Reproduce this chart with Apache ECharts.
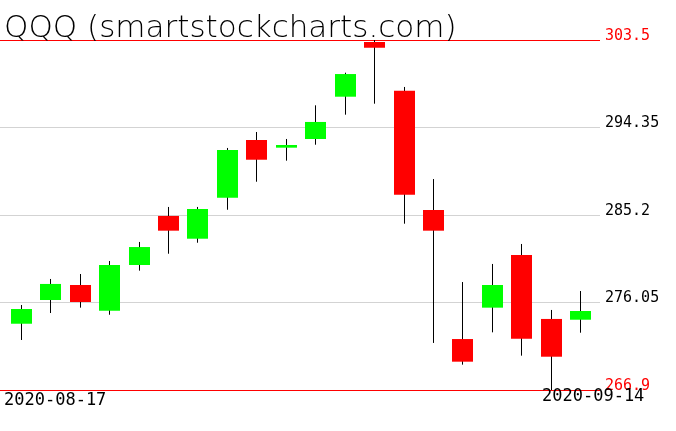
<!DOCTYPE html>
<html>
<head>
<meta charset="utf-8">
<script src="https://cdn.jsdelivr.net/npm/echarts@6/dist/echarts.min.js"></script>
<style>
html,body{margin:0;padding:0;background:#fff;}
#c{width:676px;height:431px;}
</style>
</head>
<body>
<div id="c"></div>
<script>
var titleText = 'QQQ (smartstockcharts.com)';
var dates = ['2020-08-17','2020-08-18','2020-08-19','2020-08-20','2020-08-21','2020-08-24','2020-08-25','2020-08-26','2020-08-27','2020-08-28','2020-08-31','2020-09-01','2020-09-02','2020-09-03','2020-09-04','2020-09-08','2020-09-09','2020-09-10','2020-09-11','2020-09-14'];
var openV  = [273.83,276.31,277.88,275.19,279.97,285.10,282.72,287.01,293.04,292.24,293.15,297.57,303.29,298.20,285.72,272.23,275.51,281.02,274.33,274.25];
var closeV = [275.37,277.99,276.10,279.97,281.85,283.56,285.83,292.00,290.98,292.52,294.93,299.94,302.69,287.32,283.56,269.86,277.88,272.27,270.38,275.16];
var lowV   = [272.13,274.95,275.51,274.77,279.38,281.15,282.30,285.75,288.68,290.88,292.55,295.69,296.84,284.29,271.82,269.55,272.93,270.49,266.90,272.89];
var highV  = [275.79,278.51,279.03,280.39,282.38,286.04,286.04,292.21,293.88,293.15,296.67,300.08,303.50,298.59,288.96,278.19,280.08,282.17,275.27,277.25];
var yTicks = [266.9, 276.05, 285.2, 294.35, 303.5];
var yTickLabels = ['266.9', '276.05', '285.2', '294.35', '303.5'];

var data = dates.map(function (d, i) { return [i, openV[i], closeV[i], lowV[i], highV[i]]; });
var yMin = yTicks[0], yMax = yTicks[yTicks.length - 1];
var yInt = Math.round((yTicks[1] - yTicks[0]) * 100) / 100;

function nearestLabel(v) {
  var best = 0;
  for (var i = 1; i < yTicks.length; i++) if (Math.abs(yTicks[i] - v) < Math.abs(yTicks[best] - v)) best = i;
  return best;
}

var chart = echarts.init(document.getElementById('c'), null, {renderer: 'canvas'});
chart.setOption({
  animation: false,
  backgroundColor: '#ffffff',
  title: [
    {text: titleText, left: 4, top: 13, padding: 0, textStyle: {fontFamily: 'DejaVu Sans', fontWeight: 200, fontSize: 31, color: '#000'}},
    {text: dates[0], left: 4, top: 392, padding: 0, textStyle: {fontFamily: 'DejaVu Sans Mono', fontWeight: 'normal', fontSize: 17, color: '#000'}},
    {text: dates[dates.length - 1], left: 542, top: 388, padding: 0, textStyle: {fontFamily: 'DejaVu Sans Mono', fontWeight: 'normal', fontSize: 17, color: '#000'}}
  ],
  grid: [
    {left: 6, right: 81, top: 40, bottom: 41, containLabel: false},
    {left: 0, right: 76, top: 40, bottom: 41, containLabel: false}
  ],
  xAxis: [
    {type: 'category', gridIndex: 0, data: dates, boundaryGap: true, show: false},
    {type: 'value', gridIndex: 1, min: 0, max: 1, show: false}
  ],
  yAxis: [
    {type: 'value', gridIndex: 0, min: yMin, max: yMax, show: false},
    {type: 'value', gridIndex: 1, min: yMin, max: yMax, interval: yInt, position: 'right',
     axisLine: {show: false}, axisTick: {show: false},
     splitLine: {show: true, showMinLine: true, showMaxLine: true, lineStyle: {width: 1, color: ['#ff0000', '#d3d3d3', '#d3d3d3', '#d3d3d3', '#ff0000']}},
     axisLabel: {show: true, showMinLabel: true, showMaxLabel: true, margin: 5, verticalAlign: 'bottom', lineHeight: 8, fontFamily: 'DejaVu Sans Mono', fontSize: 15,
       formatter: function (v) { return yTickLabels[nearestLabel(v)]; },
       color: function (v) { var k = nearestLabel(v); return (k === 0 || k === yTicks.length - 1) ? '#ff0000' : '#000000'; }
     }
    }
  ],
  series: [{
    type: 'custom',
    xAxisIndex: 0, yAxisIndex: 0,
    data: data,
    encode: {x: 0, y: [1, 2, 3, 4]},
    renderItem: function (params, api) {
      var idx = api.value(0);
      var o = api.coord([idx, api.value(1)]);
      var c = api.coord([idx, api.value(2)]);
      var l = api.coord([idx, api.value(3)]);
      var h = api.coord([idx, api.value(4)]);
      var bw = 21;
      var x = Math.round(o[0]);
      var up = api.value(2) >= api.value(1);
      var top = Math.min(o[1], c[1]);
      var bot = Math.max(o[1], c[1]);
      return {
        type: 'group',
        children: [
          {type: 'line', shape: {x1: x + 0.5, y1: h[1], x2: x + 0.5, y2: l[1]}, style: {stroke: '#000', lineWidth: 1}},
          {type: 'rect', shape: {x: x - 10, y: top, width: bw, height: Math.max(bot - top, 1)}, style: {fill: up ? '#00ff00' : '#ff0000'}}
        ]
      };
    }
  }]
});
</script>
</body>
</html>
